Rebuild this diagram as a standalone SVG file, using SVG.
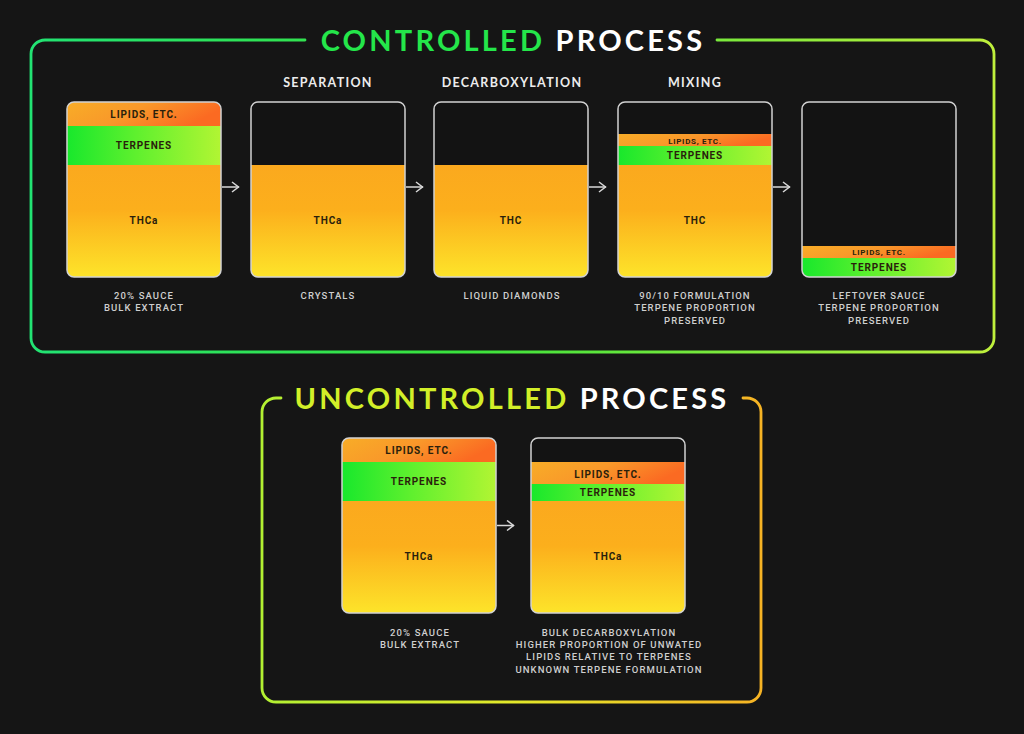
<svg xmlns="http://www.w3.org/2000/svg" width="1024" height="734" viewBox="0 0 1024 734">
<defs>
<linearGradient id="lip" x1="0" y1="0" x2="1" y2="0.3"><stop offset="0" stop-color="#f8ad27"/><stop offset="0.5" stop-color="#f9982a"/><stop offset="1" stop-color="#fb6a22"/></linearGradient>
<linearGradient id="terp" x1="0" y1="0" x2="1" y2="0"><stop offset="0" stop-color="#18e82c"/><stop offset="0.45" stop-color="#5ff02e"/><stop offset="1" stop-color="#b2f533"/></linearGradient>
<linearGradient id="thc" x1="0" y1="0" x2="0" y2="1"><stop offset="0" stop-color="#fba91e"/><stop offset="0.4" stop-color="#fcaf1c"/><stop offset="1" stop-color="#fde42a"/></linearGradient>
<linearGradient id="frameTop" gradientUnits="userSpaceOnUse" x1="31" y1="0" x2="994" y2="0"><stop offset="0" stop-color="#22e373"/><stop offset="0.45" stop-color="#3ae23c"/><stop offset="1" stop-color="#bff03c"/></linearGradient>
<linearGradient id="frameBot" gradientUnits="userSpaceOnUse" x1="262" y1="0" x2="761" y2="0"><stop offset="0" stop-color="#b2f032"/><stop offset="0.5" stop-color="#e2e82a"/><stop offset="1" stop-color="#f6b324"/></linearGradient>
<clipPath id="bc"><rect x="0" y="0" width="154" height="175" rx="7"/></clipPath>
<marker id="arr" viewBox="0 0 10 12" refX="9" refY="6" markerWidth="10" markerHeight="12" markerUnits="userSpaceOnUse" orient="auto"><path d="M2,1 L8.5,6 L2,11" fill="none" stroke="#d8d8d8" stroke-width="1.5"/></marker>
</defs>
<style>
.title{font-family:Lato,"Liberation Sans",sans-serif;font-weight:700;font-size:29px;letter-spacing:3.2px}
.step{font-family:Lato,"Liberation Sans",sans-serif;font-weight:700;font-size:12.5px;letter-spacing:1.3px;fill:#ececec}
.in{font-family:Roboto,"Liberation Sans",sans-serif;font-weight:700;font-size:10px;letter-spacing:0.9px;fill:#2a1f0c;text-anchor:middle}
.sm{font-size:8px;letter-spacing:0.7px}
.cap{font-family:Roboto,"Liberation Sans",sans-serif;font-weight:500;font-size:9.5px;letter-spacing:1.1px;fill:#cfcfcf;text-anchor:middle}
.outline{fill:none;stroke:#d2d2d2;stroke-width:1.5}
.frame{fill:none;stroke-width:2.8;stroke-linecap:round}
.conn{stroke:#d8d8d8;stroke-width:1.5;fill:none}
</style>
<rect width="1024" height="734" fill="#151515"/>

<g id="controlled-frame">
<path class="frame" stroke="url(#frameTop)" d="M305,40 H45 A14,14 0 0 0 31,54 V338 A14,14 0 0 0 45,352 H980 A14,14 0 0 0 994,338 V54 A14,14 0 0 0 980,40 H717"/>
<text class="title" x="513" y="51" text-anchor="middle"><tspan fill="#24e64a">CONTROLLED</tspan><tspan fill="#ffffff"> PROCESS</tspan></text>
</g>

<g id="uncontrolled-frame">
<path class="frame" stroke="url(#frameBot)" d="M281,398 H276 A14,14 0 0 0 262,412 V688 A14,14 0 0 0 276,702 H747 A14,14 0 0 0 761,688 V412 A14,14 0 0 0 747,398 H743"/>
<text class="title" x="512" y="409" text-anchor="middle"><tspan fill="#d2ef28">UNCONTROLLED</tspan><tspan fill="#ffffff"> PROCESS</tspan></text>
</g>

<g id="step-labels">
<text class="step" x="328" y="87" text-anchor="middle">SEPARATION</text>
<text class="step" x="512" y="87" text-anchor="middle">DECARBOXYLATION</text>
<text class="step" x="695" y="87" text-anchor="middle">MIXING</text>
</g>

<g id="box1">
<g transform="translate(67,102)"><g clip-path="url(#bc)">
<rect width="154" height="175" fill="#131313"/>
<rect y="0" width="154" height="24" fill="url(#lip)"/>
<rect y="24" width="154" height="39" fill="url(#terp)"/>
<rect y="63" width="154" height="112" fill="url(#thc)"/>
</g><rect class="outline" width="154" height="175" rx="7"/>
<text class="in" x="77" y="16">LIPIDS, ETC.</text>
<text class="in" x="77" y="47" fill="#0e2a0e">TERPENES</text>
<text class="in" x="77" y="122">THCa</text>
</g>
<text class="cap" x="144" y="298.5">20% SAUCE</text>
<text class="cap" x="144" y="311">BULK EXTRACT</text>
</g>

<g id="box2">
<g transform="translate(251,102)"><g clip-path="url(#bc)">
<rect width="154" height="175" fill="#131313"/>
<rect y="63" width="154" height="112" fill="url(#thc)"/>
</g><rect class="outline" width="154" height="175" rx="7"/>
<text class="in" x="77" y="122">THCa</text>
</g>
<text class="cap" x="328" y="298.5">CRYSTALS</text>
</g>

<g id="box3">
<g transform="translate(434,102)"><g clip-path="url(#bc)">
<rect width="154" height="175" fill="#131313"/>
<rect y="63" width="154" height="112" fill="url(#thc)"/>
</g><rect class="outline" width="154" height="175" rx="7"/>
<text class="in" x="77" y="122">THC</text>
</g>
<text class="cap" x="512" y="298.5">LIQUID DIAMONDS</text>
</g>

<g id="box4">
<g transform="translate(618,102)"><g clip-path="url(#bc)">
<rect width="154" height="175" fill="#131313"/>
<rect y="32" width="154" height="12" fill="url(#lip)"/>
<rect y="44" width="154" height="19" fill="url(#terp)"/>
<rect y="63" width="154" height="112" fill="url(#thc)"/>
</g><rect class="outline" width="154" height="175" rx="7"/>
<text class="in sm" x="77" y="41.7">LIPIDS, ETC.</text>
<text class="in" x="77" y="57.3" fill="#0e2a0e">TERPENES</text>
<text class="in" x="77" y="122">THC</text>
</g>
<text class="cap" x="695" y="298.5">90/10 FORMULATION</text>
<text class="cap" x="695" y="311">TERPENE PROPORTION</text>
<text class="cap" x="695" y="323.5">PRESERVED</text>
</g>

<g id="box5">
<g transform="translate(802,102)"><g clip-path="url(#bc)">
<rect width="154" height="175" fill="#131313"/>
<rect y="144" width="154" height="12" fill="url(#lip)"/>
<rect y="156" width="154" height="19" fill="url(#terp)"/>
</g><rect class="outline" width="154" height="175" rx="7"/>
<text class="in sm" x="77" y="152.7">LIPIDS, ETC.</text>
<text class="in" x="77" y="168.5" fill="#0e2a0e">TERPENES</text>
</g>
<text class="cap" x="879" y="298.5">LEFTOVER SAUCE</text>
<text class="cap" x="879" y="311">TERPENE PROPORTION</text>
<text class="cap" x="879" y="323.5">PRESERVED</text>
</g>

<g id="boxA">
<g transform="translate(342,438)"><g clip-path="url(#bc)">
<rect width="154" height="175" fill="#131313"/>
<rect y="0" width="154" height="24" fill="url(#lip)"/>
<rect y="24" width="154" height="39" fill="url(#terp)"/>
<rect y="63" width="154" height="112" fill="url(#thc)"/>
</g><rect class="outline" width="154" height="175" rx="7"/>
<text class="in" x="77" y="16">LIPIDS, ETC.</text>
<text class="in" x="77" y="46.5" fill="#0e2a0e">TERPENES</text>
<text class="in" x="77" y="122">THCa</text>
</g>
<text class="cap" x="420" y="635.5">20% SAUCE</text>
<text class="cap" x="420" y="647.5">BULK EXTRACT</text>
</g>

<g id="boxB">
<g transform="translate(531,438)"><g clip-path="url(#bc)">
<rect width="154" height="175" fill="#131313"/>
<rect y="24" width="154" height="22" fill="url(#lip)"/>
<rect y="46" width="154" height="17" fill="url(#terp)"/>
<rect y="63" width="154" height="112" fill="url(#thc)"/>
</g><rect class="outline" width="154" height="175" rx="7"/>
<text class="in" x="77" y="39.5">LIPIDS, ETC.</text>
<text class="in" x="77" y="58.3" fill="#0e2a0e">TERPENES</text>
<text class="in" x="77" y="122">THCa</text>
</g>
<text class="cap" x="609" y="635.5">BULK DECARBOXYLATION</text>
<text class="cap" x="609" y="647.8">HIGHER PROPORTION OF UNWATED</text>
<text class="cap" x="609" y="660.2">LIPIDS RELATIVE TO TERPENES</text>
<text class="cap" x="609" y="672.5">UNKNOWN TERPENE FORMULATION</text>
</g>

<g id="connectors">
<line class="conn" x1="222" y1="187" x2="239" y2="187" marker-end="url(#arr)"/>
<line class="conn" x1="406" y1="187" x2="423" y2="187" marker-end="url(#arr)"/>
<line class="conn" x1="589" y1="187" x2="606" y2="187" marker-end="url(#arr)"/>
<line class="conn" x1="773" y1="187" x2="790" y2="187" marker-end="url(#arr)"/>
<line class="conn" x1="497" y1="525.5" x2="514" y2="525.5" marker-end="url(#arr)"/>
</g>
</svg>
